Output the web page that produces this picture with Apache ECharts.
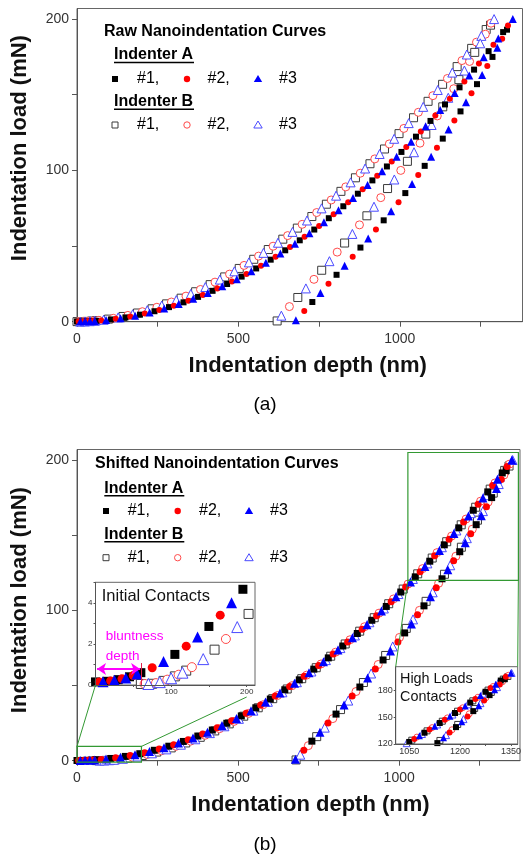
<!DOCTYPE html>
<html><head><meta charset="utf-8">
<script src="https://cdn.jsdelivr.net/npm/echarts@6/dist/echarts.min.js"></script>
<style>html,body{margin:0;padding:0;background:#fff}#c{width:526px;height:854px}</style>
</head><body><div id="c"></div>
<script>
// ---------------- data ----------------
// Indenter A, loading branch [depth nm, load mN]; consecutive points alternate #1, #2, #3
const A_LOADING = [[0,0.15],[5,0.15],[10,0.16],[15,0.18],[20,0.2],[25,0.23],[30,0.26],[35,0.3],[40,0.34],[45,0.4],[50,0.46],[55,0.53],[60,0.6],[75,0.84],[90,1.14],[105,1.49],[120,1.89],[135,2.34],[150,2.85],[165,3.4],[180,4.0],[195,4.66],[210,5.36],[225,6.12],[240,6.92],[255,7.78],[270,8.68],[285,9.64],[300,10.6],[315,11.7],[330,12.8],[345,13.9],[360,15.1],[375,16.4],[390,17.7],[405,19.0],[420,20.4],[435,21.9],[450,23.4],[465,24.9],[480,26.5],[495,28.1],[510,29.8],[525,31.6],[540,33.3],[555,35.2],[570,37.0],[585,39.0],[600,41.0],[615,43.0],[630,45.0],[645,47.2],[660,49.3],[675,51.5],[690,53.8],[705,56.1],[720,58.5],[735,60.9],[750,63.3],[765,65.8],[780,68.4],[795,71.0],[810,73.6],[825,76.3],[840,79.0],[855,81.8],[870,84.6],[885,87.5],[900,90.4],[915,93.4],[930,96.4],[945,99.5],[960,102.6],[975,105.8],[990,109.0],[1005,112.2],[1020,115.5],[1035,118.9],[1050,122.3],[1065,125.7],[1080,129.2],[1095,132.7],[1110,136.3],[1125,139.9],[1140,143.6],[1155,147.3],[1170,151.1],[1185,154.9],[1200,158.8],[1215,162.7],[1230,166.6],[1245,170.6],[1260,174.7],[1275,178.8],[1290,183.0],[1305,187.2],[1320,191.4],[1335,195.7],[1350,200]];
// Indenter A, unloading branch
const A_UNLOADING = [[1332,193],[1317,187],[1302,181],[1287,175],[1271,169],[1255,163],[1239,157],[1222,151],[1205,145],[1188,139],[1169,133],[1151,127],[1133,121],[1115,115],[1097,109],[1077,103],[1057,97],[1038,91],[1017,85],[996,79],[973,73],[950,67],[926,61],[902,55],[878,49],[854,43],[829,37],[804,31],[779,25],[754,19],[729,13],[704,7],[678,1]];
// Indenter B, loading branch (raw depth)
const B_LOADING = [[0,0.05],[5,0.05],[10,0.05],[15,0.06],[20,0.09],[25,0.14],[30,0.2],[35,0.26],[40,0.33],[45,0.42],[50,0.5],[55,0.6],[60,0.7],[67.5,0.87],[82.5,1.26],[97.5,1.72],[112.5,2.24],[127.5,2.82],[142.5,3.46],[157.5,4.16],[172.5,4.92],[187.5,5.74],[202.5,6.61],[217.5,7.54],[232.5,8.52],[247.5,9.56],[262.5,10.65],[277.5,11.8],[292.5,13.0],[307.5,14.25],[322.5,15.55],[337.5,16.9],[352.5,18.35],[367.5,19.8],[382.5,21.3],[397.5,22.9],[412.5,24.5],[427.5,26.15],[442.5,27.85],[457.5,29.6],[472.5,31.45],[487.5,33.3],[502.5,35.2],[517.5,37.2],[532.5,39.2],[547.5,41.25],[562.5,43.35],[577.5,45.5],[592.5,47.7],[607.5,49.9],[622.5,52.2],[637.5,54.55],[652.5,56.9],[667.5,59.35],[682.5,61.85],[697.5,64.35],[712.5,66.9],[727.5,69.5],[742.5,72.15],[757.5,74.9],[772.5,77.65],[787.5,80.45],[802.5,83.3],[817.5,86.15],[832.5,89.1],[847.5,92.1],[862.5,95.1],[877.5,98.15],[892.5,101.25],[907.5,104.4],[922.5,107.6],[937.5,110.85],[952.5,114.15],[967.5,117.5],[982.5,120.9],[997.5,124.3],[1012.5,127.75],[1027.5,131.25],[1042.5,134.8],[1057.5,138.4],[1072.5,142.0],[1087.5,145.65],[1102.5,149.4],[1117.5,153.15],[1132.5,156.9],[1147.5,160.75],[1162.5,164.65],[1177.5,168.6],[1192.5,172.6],[1207.5,176.6],[1222.5,180.65],[1237.5,184.75],[1252.5,188.9],[1267.5,193.1],[1282.5,197.3],[1292,200]];
// Indenter B, unloading branch (raw depth)
const B_UNLOADING = [[1281,196],[1265,190],[1249,184],[1232,178],[1216,172],[1200,166],[1183,160],[1167,154],[1150,148],[1133,142],[1116,136],[1098.5,130],[1080.5,124],[1062.5,118],[1044,112],[1023.5,106],[1003,100],[983,94],[962,88],[941,82],[920,76],[898,70],[875,64],[853,58],[829,52],[806,46],[782,40],[758,34],[734,28],[709,22],[684,16],[658,10],[633,4],[620,0.5]];
// bluntness depth: shift applied to indenter B in the shifted curves (nm)
const B_SHIFT = 60;
const BLUNT_LOAD = 1.07;
const REPEATS = ['#1,', '#2,', '#3'];

const X_TICKS = [0, 250, 500, 750, 1000, 1250];
const X_LABELS = [0, 500, 1000];
const Y_TICKS = [0, 50, 100, 150, 200];
const Y_LABELS = [0, 100, 200];
const IN1_X_TICKS = [0, 50, 100, 150, 200];
const IN1_X_LABELS = [100, 200];
const IN1_Y_TICKS = [0, 1, 2, 3, 4, 5];
const IN1_Y_LABELS = [0, 2, 4];
const IN2_X_TICKS = [1050, 1125, 1200, 1275, 1350];
const IN2_X_LABELS = [1050, 1200, 1350];
const IN2_Y_TICKS = [120, 150, 180];

// ---------------- styling ----------------
const FONT = 'Arial, "Liberation Sans", Helvetica, sans-serif';
const GREEN = '#339933';
const FILLED = [{symbol: 'rect', color: '#000000'}, {symbol: 'circle', color: '#ff0000'}, {symbol: 'triangle', color: '#0000ff'}];
const OPEN = [{symbol: 'rect', color: '#3a3a3a'}, {symbol: 'circle', color: '#ff4a4a'}, {symbol: 'triangle', color: '#4a4aff'}];

function repeatPoints(loading, unloading, k, shift) {
  return loading.concat(unloading).filter((_, i) => i % 3 === k).map(p => [p[0] + shift, p[1]]);
}

function xAxisDef(grid, min, max, ticks, labels, o) {
  return {
    type: 'value', gridIndex: grid, min: min, max: max, z: o.z || 0,
    axisLine: {show: true, onZero: false, lineStyle: {color: '#555', width: 1}},
    axisTick: {show: true, customValues: ticks, length: o.tick, lineStyle: {color: '#555'}},
    axisLabel: {customValues: labels, fontSize: o.fs, color: '#333', margin: o.margin, fontFamily: FONT,
                formatter: v => String(v)},
    splitLine: {show: false},
    name: o.name || '', nameLocation: 'middle', nameGap: o.nameGap || 0,
    nameTextStyle: {fontSize: 22, fontWeight: 'bold', color: '#111', fontFamily: FONT, padding: o.namePad || 0}
  };
}
function yAxisDef(grid, min, max, ticks, labels, o) {
  const a = xAxisDef(grid, min, max, ticks, labels, o);
  a.nameRotate = 90;
  return a;
}

const grids = [
  {left: 77, top: 8.5, width: 445.5, height: 313.2},
  {left: 77, top: 449.5, width: 443, height: 311.2},
  {left: 95.5, top: 582.3, width: 159.5, height: 102.7, z: 3, backgroundColor: '#ffffff'},
  {left: 395.7, top: 666.7, width: 122, height: 77.3, z: 3, backgroundColor: '#ffffff'}
].map(g => Object.assign({show: true, borderColor: '#666', borderWidth: 1, containLabel: false}, g));

const xAxes = [
  xAxisDef(0, 0, 1380, X_TICKS, X_LABELS, {tick: 5, fs: 14, margin: 10, name: 'Indentation depth (nm)', nameGap: 33, namePad: [0, 0, 0, 16]}),
  xAxisDef(1, 0, 1375, X_TICKS, X_LABELS, {tick: 5, fs: 14, margin: 10, name: 'Indentation depth (nm)', nameGap: 33, namePad: [0, 0, 0, 24]}),
  xAxisDef(2, 0, 211, IN1_X_TICKS, IN1_X_LABELS, {tick: 2, fs: 8, margin: 3, z: 5}),
  xAxisDef(3, 1010, 1370, IN2_X_TICKS, IN2_X_LABELS, {tick: 2, fs: 9, margin: 3, z: 5})
];
const yAxes = [
  yAxisDef(0, 0, 207, Y_TICKS, Y_LABELS, {tick: 5, fs: 14, margin: 8, name: 'Indentation load (mN)', nameGap: 46, namePad: [0, 0, 0, 34]}),
  yAxisDef(1, 0, 207, Y_TICKS, Y_LABELS, {tick: 5, fs: 14, margin: 8, name: 'Indentation load (mN)', nameGap: 46, namePad: [0, 0, 0, 10]}),
  yAxisDef(2, 0, 5, IN1_Y_TICKS, IN1_Y_LABELS, {tick: 2, fs: 8, margin: 3, z: 5}),
  yAxisDef(3, 120, 207, IN2_Y_TICKS, IN2_Y_TICKS, {tick: 2, fs: 9, margin: 3, z: 5})
];

const panels = [
  {idx: 0, shiftB: 0, fs: [6, 6, 8], os: [8, 8, 9], z: 2},
  {idx: 1, shiftB: B_SHIFT, fs: [7, 7, 9], os: [8, 8, 9], z: 2},
  {idx: 2, shiftB: B_SHIFT, fs: [9, 9, 11], os: [9, 9, 11], z: 4},
  {idx: 3, shiftB: B_SHIFT, fs: [6, 6, 7], os: [6, 6, 7], z: 4}
];

const series = [];
panels.forEach(p => {
  for (let k = 0; k < 3; k++) {
    series.push({
      type: 'scatter', name: 'Indenter B ' + REPEATS[k], xAxisIndex: p.idx, yAxisIndex: p.idx, z: p.z,
      symbol: OPEN[k].symbol, symbolSize: p.os[k], silent: true, clip: true,
      itemStyle: {color: '#ffffff', borderColor: OPEN[k].color, borderWidth: 1, opacity: 1},
      data: repeatPoints(B_LOADING, B_UNLOADING, k, p.shiftB)
    });
  }
  for (let k = 0; k < 3; k++) {
    const s = {
      type: 'scatter', name: 'Indenter A ' + REPEATS[k], xAxisIndex: p.idx, yAxisIndex: p.idx, z: p.z,
      symbol: FILLED[k].symbol, symbolSize: p.fs[k], silent: true, clip: true,
      itemStyle: {color: FILLED[k].color, opacity: 1},
      data: repeatPoints(A_LOADING, A_UNLOADING, k, 0)
    };
    if (p.idx === 2 && k === 2) {
      s.markLine = {
        silent: true, animation: false, label: {show: false},
        data: [
          [{coord: [2, 0.78], symbol: 'arrow', symbolSize: 9, lineStyle: {color: '#ff00ff', width: 2, type: 'solid'}},
           {coord: [B_SHIFT - 1, 0.78], symbol: 'arrow', symbolSize: 9}],
          [{coord: [B_SHIFT, 0], symbol: 'none', lineStyle: {color: '#e0204a', width: 1, type: 'solid'}},
           {coord: [B_SHIFT, BLUNT_LOAD], symbol: 'none'}]
        ]
      };
    }
    series.push(s);
  }
});

const chart = echarts.init(document.getElementById('c'), null, {renderer: 'canvas'});
chart.setOption({
  animation: false,
  backgroundColor: '#ffffff',
  textStyle: {fontFamily: FONT},
  grid: grids, xAxis: xAxes, yAxis: yAxes, series: series
});

// ---------------- annotations ----------------
const G = [];
function txt(x, y, s, size, opts) {
  opts = opts || {};
  G.push({type: 'text', x: x, y: y, z: 100, silent: true, style: {
    text: s, fontSize: size, fontWeight: opts.bold ? 'bold' : 'normal', fontFamily: FONT,
    fill: opts.color || '#000', align: opts.align || 'left', verticalAlign: 'middle'}});
}
function line(x1, y1, x2, y2, color, w) {
  G.push({type: 'line', z: 100, silent: true, shape: {x1: x1, y1: y1, x2: x2, y2: y2}, style: {stroke: color, lineWidth: w || 1}});
}
function sym(kind, open, cx, cy, color) {
  const st = open ? {fill: '#fff', stroke: color, lineWidth: 1} : {fill: color};
  if (kind === 'rect') G.push({type: 'rect', z: 100, shape: {x: cx - 3, y: cy - 3, width: 6, height: 6}, style: st});
  else if (kind === 'circle') G.push({type: 'circle', z: 100, shape: {cx: cx, cy: cy, r: 3.2}, style: st});
  else G.push({type: 'polygon', z: 100, shape: {points: [[cx, cy - 4], [cx + 4.2, cy + 3], [cx - 4.2, cy + 3]]}, style: st});
}
function legendBlock(title, tx, ty, hx, hA, hB, symX, textX, rowA, rowB) {
  txt(tx, ty, title, 16, {bold: true});
  txt(hx, hA, 'Indenter A', 16, {bold: true});
  line(hx, hA + 7.5, hx + 80, hA + 7.5, '#000', 1.5);
  txt(hx, hB, 'Indenter B', 16, {bold: true});
  line(hx, hB + 7.5, hx + 80, hB + 7.5, '#000', 1.5);
  for (let k = 0; k < 3; k++) {
    sym(FILLED[k].symbol, false, symX[k], rowA, FILLED[k].color);
    txt(textX[k], rowA, REPEATS[k], 16);
    sym(OPEN[k].symbol, true, symX[k], rowB, OPEN[k].color);
    txt(textX[k], rowB, REPEATS[k], 16);
  }
}
legendBlock('Raw Nanoindentation Curves', 104, 31.7, 114, 55, 101.7, [115, 187, 258], [137, 207.5, 279], 79, 125);
legendBlock('Shifted Nanoindentation Curves', 95, 464, 104.3, 488.3, 534.3, [106, 177.7, 249], [127.7, 199, 270], 511, 557.7);

txt(265, 405, '(a)', 19, {align: 'center'});
txt(265, 845, '(b)', 19, {align: 'center'});

// inset texts
txt(101.7, 596, 'Initial Contacts', 16.5, {color: '#111'});
txt(105.7, 636.7, 'bluntness', 13.5, {color: '#ff00ff'});
txt(105.7, 656, 'depth', 13.5, {color: '#ff00ff'});
txt(400, 679, 'High Loads', 14.4, {color: '#111'});
txt(400, 696.7, 'Contacts', 14.4, {color: '#111'});

// zoom boxes and connectors (anchored to axes)
const px = (g, v) => chart.convertToPixel({gridIndex: g}, v);
function box(g, x0, y0, x1, y1) {
  const a = px(g, [x0, y1]), b = px(g, [x1, y0]);
  G.push({type: 'rect', z: 90, silent: true, shape: {x: a[0], y: a[1], width: b[0] - a[0], height: b[1] - a[1]},
          style: {fill: 'none', stroke: GREEN, lineWidth: 1.2}});
}
box(1, 1027, 120, 1370, 205);
box(1, 0, -1, 200, 9.5);
let p1 = px(1, [1027, 120]), p2 = px(3, [1010, 207]);
line(p1[0], p1[1], p2[0], p2[1], GREEN, 1);
p1 = px(1, [1370, 120]); p2 = px(3, [1370, 207]);
line(p1[0], p1[1], p2[0], p2[1], GREEN, 1);
p1 = px(1, [0, 9.5]); p2 = px(2, [0, 0]);
line(p1[0], p1[1], p2[0], p2[1], GREEN, 1);
p1 = px(1, [200, 9.5]); p2 = px(2, [200, 0]);
line(p1[0], p1[1], p2[0], p2[1] + 12, GREEN, 1);

chart.setOption({graphic: G});
</script></body></html>
